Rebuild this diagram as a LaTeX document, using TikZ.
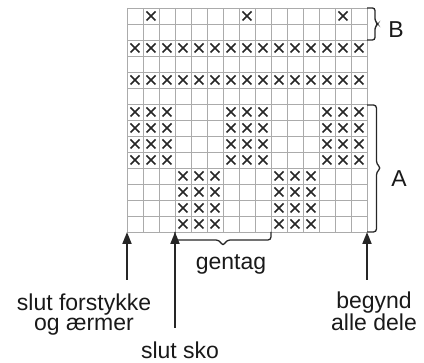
\documentclass[tikz,border=0pt]{standalone}
\usepackage{fontspec}
\setmainfont{Liberation Sans}
\usetikzlibrary{arrows.meta}
\newcommand\xcell[2]{\draw[xmark] (127+16*#1+3.5,8+16*#2+3.5) -- ++(9,9) (127+16*#1+12.5,8+16*#2+3.5) -- ++(-9,9);}
\begin{document}
\begin{tikzpicture}[x=1pt,y=-1pt,
  gridline/.style={draw=black!33, line width=0.8pt},
  xmark/.style={draw=black!85, line width=1.5pt},
  bracestyle/.style={draw=black!85, line width=1.3pt, rounded corners=3pt},
  arr/.style={draw=black!85, line width=1.8pt, -{Triangle[length=12pt,width=9pt]}},
  lbl/.style={font=\fontsize{23}{20}\selectfont, text=black!90, inner sep=0pt, anchor=base, align=center},
]
\useasboundingbox (0,0) rectangle (424,363);
% grid
\foreach \i in {0,...,15} \draw[gridline] (127+16*\i,8) -- (127+16*\i,232);
\foreach \j in {0,...,14} \draw[gridline] (127,8+16*\j) -- (367,8+16*\j);
% crosses
\foreach \i in {1,7,13} {\xcell{\i}{0}}
\foreach \i in {0,...,14} {\xcell{\i}{2}\xcell{\i}{4}}
\foreach \j in {6,...,9} {\foreach \i in {0,1,2,6,7,8,12,13,14} {\xcell{\i}{\j}}}
\foreach \j in {10,...,13} {\foreach \i in {3,4,5,9,10,11} {\xcell{\i}{\j}}}
% braces
\draw[bracestyle, rounded corners=2.5pt] (367,8) -- (375,8) -- (375,21) -- (378,24) -- (375,27) -- (375,40) -- (367,40);
\draw[bracestyle] (367,105) -- (376.5,105) -- (376.5,164) -- (381,168) -- (376.5,172) -- (376.5,232) -- (367,232);
\draw[bracestyle] (175,232) -- (175,240) -- (219,240) -- (223,246) -- (227,240) -- (271,240) -- (271,232);
% labels
\node[lbl] (sf) at (84,331) {slut forstykke\\og ærmer};
\node[lbl] (ss) at (180,358.5) {slut sko};
\node[lbl] (gt) at (231,270) {gentag};
\node[lbl] (bg) at (374,331) {begynd\\alle dele};
\node[lbl] (lB) at (396,38) {B};
\node[lbl] (lA) at (399,187) {A};
% arrows
\coordinate (g1) at (127,232);
\coordinate (g2) at (175,232);
\coordinate (g3) at (367,232);
\coordinate (t1) at (127,280);
\coordinate (t2) at (175,328);
\coordinate (t3) at (367,280);
\draw[arr] (t1) -- (g1);
\draw[arr] (t2) -- (g2);
\draw[arr] (t3) -- (g3);
\end{tikzpicture}
\end{document}
